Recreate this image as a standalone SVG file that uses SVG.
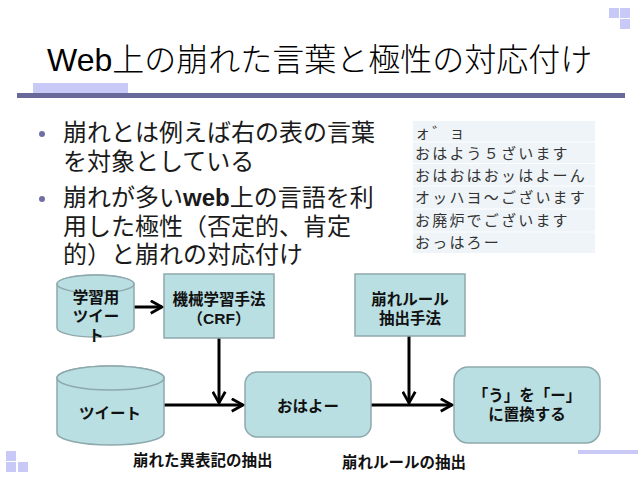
<svg xmlns="http://www.w3.org/2000/svg" width="638" height="479" viewBox="0 0 638 479">
<defs>
<style>
.deco{fill:#c9c9f7}
.title{font-family:"Liberation Sans","Noto Sans CJK JP",sans-serif;font-size:32px;font-weight:300;fill:#000}
.body{font-family:"Liberation Sans","Noto Sans CJK JP",sans-serif;font-size:24px;fill:#1a1a1a}
.bul{fill:#6f6fa3}
.row{fill:#eef4f7}
.tt{font-family:"Noto Sans CJK JP",sans-serif;font-size:15px;letter-spacing:2.2px;fill:#333}
.node{fill:#b9dfe3;stroke:#8ea9ad;stroke-width:1.5}
.lbl{font-family:"Liberation Sans","Noto Sans CJK JP",sans-serif;font-size:15.5px;font-weight:bold;fill:#111;text-anchor:middle}
.cap{font-family:"Liberation Sans","Noto Sans CJK JP",sans-serif;font-size:15.5px;font-weight:bold;fill:#111}
.con{stroke:#000;stroke-width:3;fill:none}
</style>
<marker id="ah" viewBox="0 0 12 12" refX="10" refY="6" markerWidth="5" markerHeight="5" orient="auto" markerUnits="strokeWidth">
<path d="M1,1 L10,6 L1,11" fill="none" stroke="#000" stroke-width="2.2"/>
</marker>
</defs>
<rect width="638" height="479" fill="#fff"/>
<!-- decorations -->
<rect class="deco" x="609" y="8" width="10" height="10"/>
<rect class="deco" x="620" y="8" width="10" height="10"/>
<rect class="deco" x="620" y="19" width="10" height="10"/>
<rect class="deco" x="6" y="451" width="10" height="10"/>
<rect class="deco" x="6" y="462" width="10" height="10"/>
<rect class="deco" x="18" y="462" width="10" height="10"/>
<rect class="deco" x="578" y="450" width="60" height="4"/>
<rect class="deco" x="33" y="83" width="95" height="10"/>
<rect x="17" y="93" width="608" height="5" fill="#68689a"/>
<text class="title" x="47" y="71">Web上の崩れた言葉と極性の対応付け</text>
<!-- bullets -->
<circle class="bul" cx="42" cy="134" r="3"/>
<circle class="bul" cx="42" cy="199" r="3"/>
<text class="body" x="63" y="141">崩れとは例えば右の表の言葉</text>
<text class="body" x="63" y="170">を対象としている</text>
<text class="body" x="63" y="206">崩れが多い<tspan font-family="Liberation Sans" font-weight="bold">web</tspan>上の言語を利</text>
<text class="body" x="63" y="235">用した極性（否定的、肯定</text>
<text class="body" x="63" y="263">的）と崩れの対応付け</text>
<!-- table -->
<g id="table">
<rect class="row" x="413" y="121" width="182" height="20.5"/>
<rect class="row" x="413" y="142.5" width="182" height="20.5"/>
<rect class="row" x="413" y="164" width="182" height="21.5"/>
<rect class="row" x="413" y="186.5" width="182" height="22"/>
<rect class="row" x="413" y="209.5" width="182" height="22"/>
<rect class="row" x="413" y="232.5" width="182" height="20.5"/>
<text class="tt" x="415" y="137.5">ォ゛ョ</text>
<text class="tt" x="415" y="158.5">おはよう５ざいます</text>
<text class="tt" x="415" y="180.5">おはおはおッはよーん</text>
<text class="tt" x="415" y="203">オッハヨ〜ございます</text>
<text class="tt" x="415" y="226">お廃炉でございます</text>
<text class="tt" x="415" y="248">おっはろー</text>
</g>
<!-- connectors -->
<g id="connectors">
<line class="con" x1="134" y1="307" x2="162" y2="307" marker-end="url(#ah)"/>
<line class="con" x1="219" y1="338" x2="219" y2="403" marker-end="url(#ah)"/>
<line class="con" x1="164" y1="405" x2="243" y2="405" marker-end="url(#ah)"/>
<line class="con" x1="409" y1="336" x2="409" y2="403" marker-end="url(#ah)"/>
<line class="con" x1="371" y1="405" x2="452" y2="405" marker-end="url(#ah)"/>
</g>
<!-- nodes -->
<g id="cyl-train">
<path class="node" d="M57,284 L57,328 A38.5,9 0 0 0 134,328 L134,284 A38.5,9 0 0 0 57,284 Z"/>
<ellipse class="node" cx="95.5" cy="284" rx="38.5" ry="9"/>
<text class="lbl" x="96" y="303">学習用</text>
<text class="lbl" x="96" y="322">ツイー</text>
<text class="lbl" x="96" y="341">ト</text>
</g>
<g id="box-crf">
<rect class="node" x="164" y="274" width="110" height="64"/>
<text class="lbl" x="219" y="305">機械学習手法</text>
<text class="lbl" x="219" y="324">（CRF）</text>
</g>
<g id="box-rule">
<rect class="node" x="355" y="274" width="110" height="62"/>
<text class="lbl" x="410" y="305">崩れルール</text>
<text class="lbl" x="410" y="324">抽出手法</text>
</g>
<g id="cyl-tweet">
<path class="node" d="M57,378 L57,433 A53.5,12 0 0 0 164,433 L164,378 A53.5,12 0 0 0 57,378 Z"/>
<ellipse class="node" cx="110.5" cy="378" rx="53.5" ry="12"/>
<text class="lbl" x="110" y="419">ツイート</text>
</g>
<g id="box-ohayo">
<rect class="node" x="245" y="372" width="126" height="65" rx="12"/>
<text class="lbl" x="308" y="412">おはよー</text>
</g>
<g id="box-replace">
<rect class="node" x="454" y="367" width="146" height="76" rx="14"/>
<text class="lbl" x="527" y="401">「う」を「ー」</text>
<text class="lbl" x="527" y="420">に置換する</text>
</g>
<text class="cap" x="133" y="466">崩れた異表記の抽出</text>
<text class="cap" x="342" y="468">崩れルールの抽出</text>
</svg>
